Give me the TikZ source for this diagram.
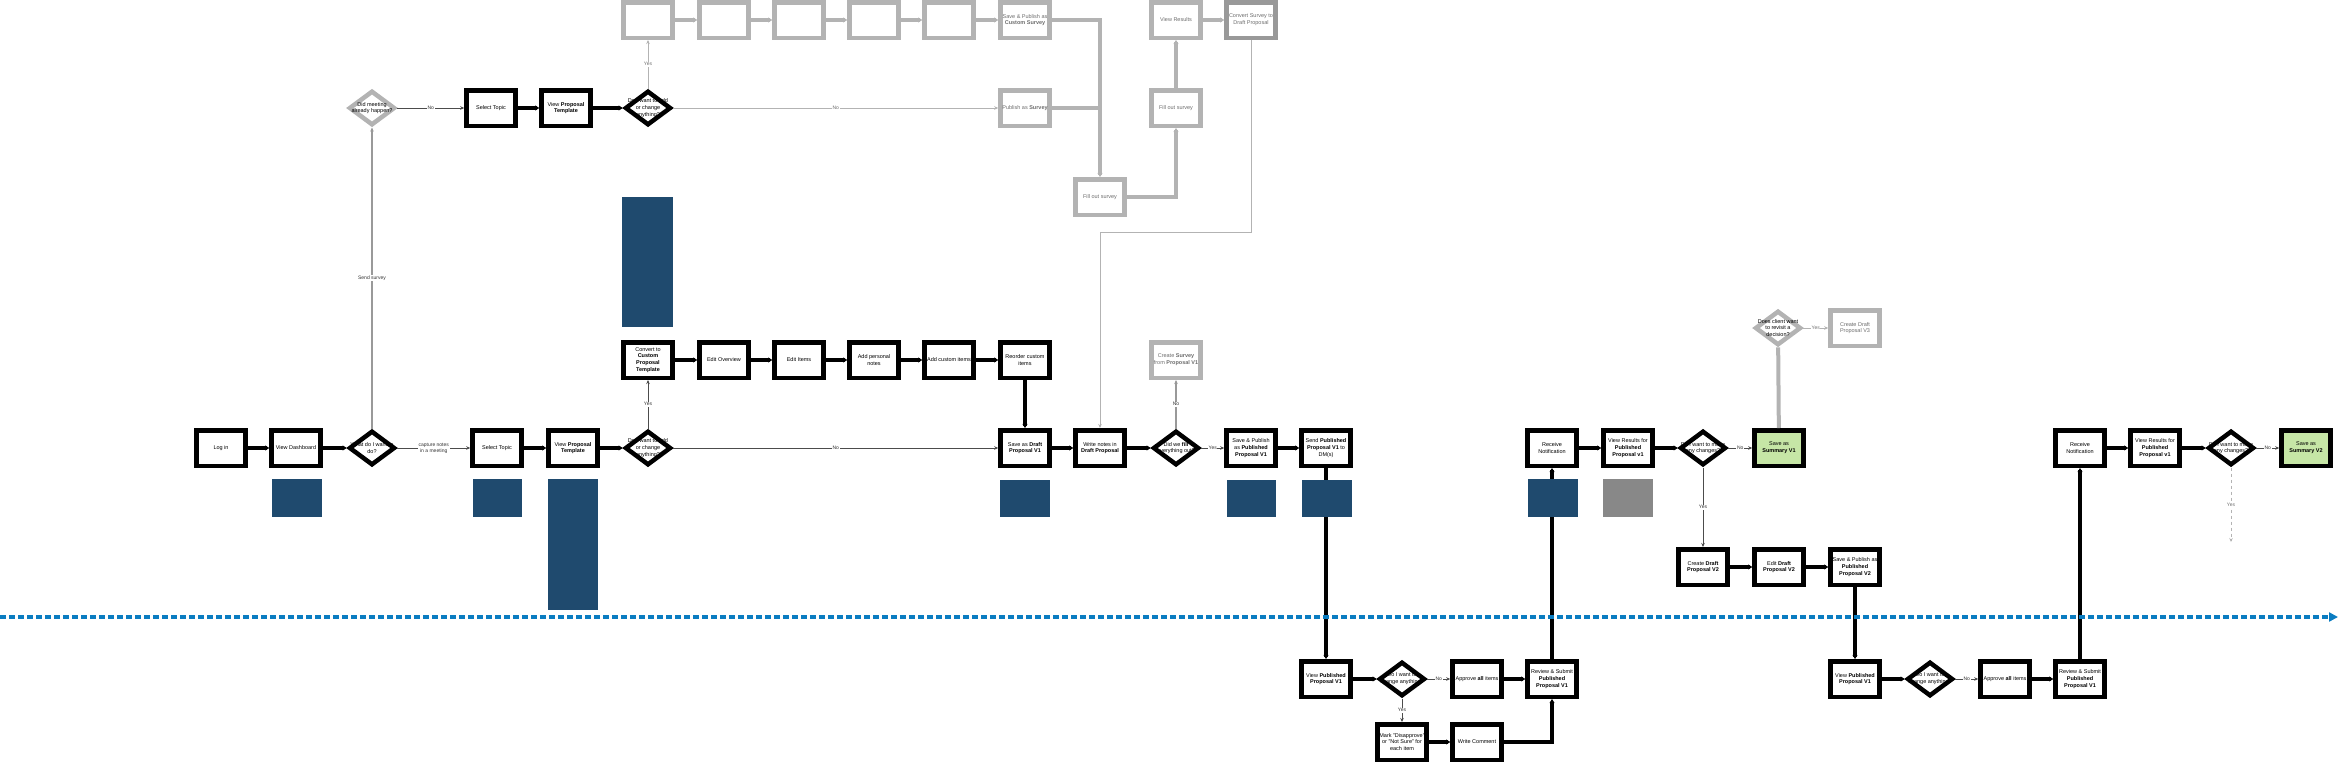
\documentclass[tikz,border=0pt]{standalone}
\usepackage{fontspec}
\setmainfont{Liberation Sans}
\usetikzlibrary{arrows.meta,shapes.geometric}
\definecolor{bluec}{HTML}{1F4A6E}
\definecolor{lgray}{HTML}{B3B3B3}
\definecolor{mgray}{HTML}{999999}
\definecolor{tgray}{HTML}{6E6E6E}
\definecolor{tlblue}{HTML}{0A7CC1}
\definecolor{greenc}{HTML}{C6E6A6}
\definecolor{gfill}{HTML}{888888}
\newcommand\fs{\fontsize{5.5}{6.8}\selectfont}
\newcommand\fl{\fontsize{5}{6}\selectfont}
\tikzset{
 bx/.style={draw=black, line width=4.5pt, fill=white, minimum width=49pt, minimum height=35.5pt, inner sep=0pt, align=center, font=\fs, text=black},
 gbx/.style={bx, draw=lgray, text=tgray},
 dia/.style={diamond, draw=black, line width=4.5pt, fill=white, minimum width=46pt, minimum height=34.5pt, inner sep=0pt},
 gdia/.style={dia, draw=lgray},
 dl/.style={align=center, font=\fs, text=black, inner sep=0pt},
 tk/.style={line width=4pt, draw=black, -{Stealth[length=4pt,width=5pt]}},
 tkn/.style={line width=4pt, draw=black},
 gtk/.style={line width=4pt, draw=lgray, -{Stealth[length=4pt,width=5pt]}},
 gtkn/.style={line width=4pt, draw=lgray},
 thn/.style={line width=0.9pt, draw=black!70, -{Stealth[length=4pt,width=3.5pt]}},
 gthn/.style={line width=0.9pt, draw=lgray, -{Stealth[length=4pt,width=3.5pt]}},
 mthn/.style={line width=1.3pt, draw=mgray, -{Stealth[length=4pt,width=3.5pt]}},
 gdash/.style={line width=0.9pt, draw=lgray, dashed, -{Stealth[length=4pt,width=3.5pt]}},
 lab/.style={font=\fl, fill=white, inner sep=0.6pt, align=center, text=black!80},
 glab/.style={lab, text=tgray},
 timeline/.style={line width=3.5pt, draw=tlblue, dash pattern=on 6pt off 3pt, -{Triangle[length=9pt,width=9pt]}},
}
\begin{document}
\begin{tikzpicture}[x=1pt,y=-1pt]
\useasboundingbox (0,0) rectangle (2340,764);

% ---------- top gray survey area ----------
\node[gbx] (g1) at (648,20) {};
\node[gbx] (g2) at (724,20) {};
\node[gbx] (g3) at (799,20) {};
\node[gbx] (g4) at (874,20) {};
\node[gbx] (g5) at (949,20) {};
\node[gbx] (spc) at (1025,20) {Save \& Publish as\\\textbf{Custom Survey}};
\node[gbx] (vr) at (1176,20) {View Results};
\node[gbx, draw=mgray] (csd) at (1251,20) {Convert Survey to\\Draft Proposal};
\node[gbx] (pas) at (1025,108) {Publish as \textbf{Survey}};
\node[gbx] (fill2) at (1176,108) {Fill out survey};
\node[gbx] (fill1) at (1100,197) {Fill out survey};

\node[gdia, label={[dl]center:{Did meeting\\already happen?}}] (meet) at (372,108) {};
\node[bx] (sel0) at (491,108) {Select Topic};
\node[bx] (vpt0) at (566,108) {View \textbf{Proposal}\\\textbf{Template}};
\node[dia, label={[dl]center:{Do I want to add\\or change\\anything?}}] (chg0) at (648,108) {};

% ---------- custom template row ----------
\node[bx] (conv) at (648,360) {Convert to\\\textbf{Custom}\\\textbf{Proposal}\\\textbf{Template}};
\node[bx] (eo) at (724,360) {Edit Overview};
\node[bx] (ei) at (799,360) {Edit Items};
\node[bx] (apn) at (874,360) {Add personal\\notes};
\node[bx] (aci) at (949,360) {Add custom items};
\node[bx] (rci) at (1025,360) {Reorder custom\\items};
\node[gbx] (csurv) at (1176,360) {Create \textbf{Survey}\\from \textbf{Proposal V1}};

% ---------- main row ----------
\node[bx] (login) at (221,448) {Log in};
\node[bx] (dash) at (296,448) {View Dashboard};
\node[dia, label={[dl]center:{What do I want to\\do?}}] (what) at (372,448) {};
\node[bx] (sel1) at (497,448) {Select Topic};
\node[bx] (vpt1) at (573,448) {View \textbf{Proposal}\\\textbf{Template}};
\node[dia, label={[dl]center:{Do I want to add\\or change\\anything?}}] (chg1) at (648,448) {};
\node[bx] (draft) at (1025,448) {Save as \textbf{Draft}\\\textbf{Proposal V1}};
\node[bx] (write) at (1100,448) {Write notes in\\\textbf{Draft Proposal}};
\node[dia, label={[dl]center:{Did we \textbf{fill}\\everything out?}}] (fill) at (1176,448) {};
\node[bx] (pub) at (1251,448) {Save \& Publish\\as \textbf{Published}\\\textbf{Proposal V1}};
\node[bx] (send) at (1326,448) {Send \textbf{Published}\\\textbf{Proposal V1} to\\DM(s)};
\node[bx] (recv1) at (1552,448) {Receive\\Notification};
\node[bx] (res1) at (1628,448) {View Results for\\\textbf{Published}\\\textbf{Proposal v1}};
\node[dia, label={[dl]center:{Do I want to make\\any changes?}}] (mk1) at (1703,448) {};
\node[bx, fill=greenc] (sum1) at (1779,448) {Save as\\\textbf{Summary V1}};
\node[bx] (recv2) at (2080,448) {Receive\\Notification};
\node[bx] (res2) at (2155,448) {View Results for\\\textbf{Published}\\\textbf{Proposal v1}};
\node[dia, label={[dl]center:{Do I want to make\\any changes?}}] (mk2) at (2231,448) {};
\node[bx, fill=greenc] (sum2) at (2306,448) {Save as\\\textbf{Summary V2}};

\node[gdia, label={[dl]center:{Does client want\\to revisit a\\decision?}}] (client) at (1778,328) {};
\node[gbx] (v3) at (1855,328) {Create Draft\\Proposal V3};

% ---------- V2 row ----------
\node[bx] (cdv2) at (1703,567) {Create \textbf{Draft}\\\textbf{Proposal V2}};
\node[bx] (edv2) at (1779,567) {Edit \textbf{Draft}\\\textbf{Proposal V2}};
\node[bx] (spv2) at (1855,567) {Save \& Publish as\\\textbf{Published}\\\textbf{Proposal V2}};

% ---------- bottom rows ----------
\node[bx] (vp1) at (1326,679) {View \textbf{Published}\\\textbf{Proposal V1}};
\node[dia, label={[dl]center:{Do I want to\\change anything?}}] (chg2) at (1402,679) {};
\node[bx] (app1) at (1477,679) {Approve \textbf{all} items};
\node[bx] (rs1) at (1552,679) {Review \& Submit\\\textbf{Published}\\\textbf{Proposal V1}};
\node[bx] (mark) at (1402,742) {Mark "Disapprove"\\or "Not Sure" for\\each item};
\node[bx] (wc) at (1477,742) {Write Comment};

\node[bx] (vp2) at (1855,679) {View \textbf{Published}\\\textbf{Proposal V1}};
\node[dia, label={[dl]center:{Do I want to\\change anything?}}] (chg3) at (1930,679) {};
\node[bx] (app2) at (2005,679) {Approve \textbf{all} items};
\node[bx] (rs2) at (2080,679) {Review \& Submit\\\textbf{Published}\\\textbf{Proposal V1}};

% ---------- coordinates ----------
\coordinate (k1) at (1251,232);
\coordinate (k2) at (1100,232);
\coordinate (mk2end) at (2231,542);
\coordinate (tl0) at (0,617);
\coordinate (tl1) at (2338,617);

% ---------- gray connectors (top) ----------
\draw[gtk] (g1) -- (g2);
\draw[gtk] (g2) -- (g3);
\draw[gtk] (g3) -- (g4);
\draw[gtk] (g4) -- (g5);
\draw[gtk] (g5) -- (spc);
\draw[gtk] (spc.east) -| (fill1.north);
\draw[gtkn] (pas.east) -- (pas.east -| fill1.north);
\draw[gtk] (fill1.east) -| (fill2.south);
\draw[gtk] (fill2) -- (vr);
\draw[gtk] (vr) -- (csd);
\draw[gthn, line width=0.7pt] (csd.south) -- (k1) -- (k2) -- (write.north);
\draw[gthn] (chg0) -- node[glab]{Yes} (g1);
\draw[gthn] (chg0) -- node[glab]{No} (pas);
\draw[thn] (meet) -- node[lab]{No} (sel0);
\draw[tk] (sel0) -- (vpt0);
\draw[tk] (vpt0) -- (chg0);
\draw[mthn] (what) -- node[lab]{Send survey} (meet);

% ---------- main connectors ----------
\draw[tk] (login) -- (dash);
\draw[tk] (dash) -- (what);
\draw[thn] (what) -- node[lab]{capture notes\\in a meeting} (sel1);
\draw[tk] (sel1) -- (vpt1);
\draw[tk] (vpt1) -- (chg1);
\draw[thn] (chg1) -- node[lab]{Yes} (conv);
\draw[thn] (chg1) -- node[lab]{No} (draft);
\draw[tk] (conv) -- (eo);
\draw[tk] (eo) -- (ei);
\draw[tk] (ei) -- (apn);
\draw[tk] (apn) -- (aci);
\draw[tk] (aci) -- (rci);
\draw[tk] (rci) -- (draft);
\draw[tk] (draft) -- (write);
\draw[tk] (write) -- (fill);
\draw[mthn] (fill) -- node[lab]{No} (csurv);
\draw[thn] (fill) -- node[lab]{Yes} (pub);
\draw[tk] (pub) -- (send);
\draw[tk] (send) -- (vp1);
\draw[tk] (vp1) -- (chg2);
\draw[thn] (chg2) -- node[lab]{No} (app1);
\draw[thn] (chg2) -- node[lab]{Yes} (mark);
\draw[tk] (app1) -- (rs1);
\draw[tk] (mark) -- (wc);
\draw[tk] (wc.east) -| (rs1.south);
\draw[tk] (rs1) -- (recv1);
\draw[tk] (recv1) -- (res1);
\draw[tk] (res1) -- (mk1);
\draw[thn] (mk1) -- node[lab]{No} (sum1);
\draw[thn] (mk1) -- node[lab]{Yes} (cdv2);
\draw[gtkn] (client) -- (sum1);
\draw[gthn] (client) -- node[glab]{Yes} (v3);
\draw[tk] (cdv2) -- (edv2);
\draw[tk] (edv2) -- (spv2);
\draw[tk] (spv2) -- (vp2);
\draw[tk] (vp2) -- (chg3);
\draw[thn] (chg3) -- node[lab]{No} (app2);
\draw[tk] (app2) -- (rs2);
\draw[tk] (rs2) -- (recv2);
\draw[tk] (recv2) -- (res2);
\draw[tk] (res2) -- (mk2);
\draw[thn] (mk2) -- node[lab]{No} (sum2);
\draw[gdash] (mk2) -- node[glab]{Yes} (mk2end);

% ---------- colour blocks ----------
\fill[bluec] (272,479) rectangle (322,517);
\fill[bluec] (473,479) rectangle (522,517);
\fill[bluec] (548,479) rectangle (598,610);
\fill[bluec] (622,197) rectangle (673,327);
\fill[bluec] (1000,480) rectangle (1050,517);
\fill[bluec] (1227,480) rectangle (1276,517);
\fill[bluec] (1302,480) rectangle (1352,517);
\fill[bluec] (1528,479) rectangle (1578,517);
\fill[gfill] (1603,479) rectangle (1653,517);

% ---------- timeline ----------
\draw[timeline] (tl0) -- (tl1);
\end{tikzpicture}
\end{document}
